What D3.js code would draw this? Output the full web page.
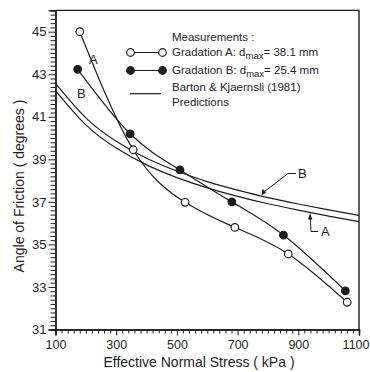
<!DOCTYPE html>
<html>
<head>
<meta charset="utf-8">
<script src="https://cdn.jsdelivr.net/npm/d3@7"></script>
<style>
  html, body { margin: 0; padding: 0; background: #fff; }
  svg { display: block; font-family: "Liberation Sans", Arial, sans-serif; }
</style>
</head>
<body>
<svg id="chart" width="370" height="372"></svg>
<script>
// Measured friction angles (degrees) against effective normal stress (kPa)
const stressA = [180, 356, 527, 691, 867, 1061];
const angleA  = [45.0, 39.45, 36.98, 35.8, 34.55, 32.28];
const stressB = [173, 346, 510, 681, 851, 1055];
const angleB  = [43.23, 40.2, 38.5, 37.0, 35.44, 32.82];

// Barton & Kjaernsli (1981) predicted curves
const predStress = [100, 200, 300, 400, 500, 600, 700, 800, 900, 1000, 1100];
const predA = [42.23, 40.62, 39.53, 38.74, 38.14, 37.66, 37.26, 36.91, 36.61, 36.33, 36.07];
const predB = [42.57, 40.95, 39.85, 39.05, 38.45, 37.95, 37.55, 37.20, 36.90, 36.62, 36.36];

// Axis ticks
const xMajor = [100, 300, 500, 700, 900, 1100];
const yMajor = [31, 33, 35, 37, 39, 41, 43, 45];

const ink = "#1e1e1e";
const svg = d3.select("#chart");

const x = d3.scaleLinear().domain([100, 1100]).range([55.5, 359]);
const y = d3.scaleLinear().domain([31, 46]).range([329.5, 10.4]);

// frame: top and right borders
svg.append("path")
  .attr("d", `M${x(100)},${y(46)}H${x(1100)}V${y(31)}`)
  .attr("fill", "none").attr("stroke", ink).attr("stroke-width", 1.4);

// minor ticks
const xMinor = d3.range(100, 1101, 20).filter(v => !xMajor.includes(v));
const yMinor = d3.range(31, 46.01, 0.2).map(v => +v.toFixed(1)).filter(v => !yMajor.includes(v));

const gx = svg.append("g").attr("transform", `translate(0,${y(31)})`);
gx.call(d3.axisBottom(x).tickValues(xMinor).tickSize(4).tickFormat(""));
gx.call(g => g.append("g").call(d3.axisBottom(x).tickValues(xMajor).tickSize(6).tickPadding(5)
  .tickFormat(d3.format("d"))));
gx.selectAll("path.domain").attr("stroke", ink).attr("stroke-width", 1.4);
gx.selectAll("line").attr("stroke", ink).attr("stroke-width", 1);
gx.selectAll("text").attr("fill", ink).attr("font-size", 12.5).attr("font-family", "Liberation Sans");
// the last label sits against the right edge of the page
gx.selectAll(".tick text").filter(d => d === 1100).attr("text-anchor", "end").attr("dx", 10);

const gy = svg.append("g").attr("transform", `translate(${x(100)},0)`);
gy.call(d3.axisLeft(y).tickValues(yMinor).tickSize(5).tickFormat(""));
gy.call(g => g.append("g").call(d3.axisLeft(y).tickValues(yMajor).tickSize(7).tickPadding(2)
  .tickFormat(d3.format("d"))));
gy.selectAll("path.domain").attr("stroke", ink).attr("stroke-width", 1.4);
gy.selectAll("line").attr("stroke", ink).attr("stroke-width", 1);
gy.selectAll("text").attr("fill", ink).attr("font-size", 13).attr("font-family", "Liberation Sans");

// axis titles
svg.append("text")
  .attr("x", 199).attr("y", 367)
  .attr("text-anchor", "middle").attr("font-size", 14).attr("fill", ink)
  .text("Effective Normal Stress ( kPa )");
svg.append("text")
  .attr("transform", `translate(24,186) rotate(-90)`)
  .attr("text-anchor", "middle").attr("font-size", 14).attr("fill", ink)
  .text("Angle of Friction  ( degrees )");

// prediction curves
const predLine = d3.line().x(d => x(d[0])).y(d => y(d[1])).curve(d3.curveNatural);
[predA, predB].forEach(vals => {
  svg.append("path")
    .datum(predStress.map((s, i) => [s, vals[i]]))
    .attr("d", predLine)
    .attr("fill", "none").attr("stroke", ink).attr("stroke-width", 1.2);
});

// measured series
const measLine = d3.line().x(d => x(d[0])).y(d => y(d[1])).curve(d3.curveNatural);
function series(stress, angle, filled) {
  const pts = stress.map((s, i) => [s, angle[i]]);
  svg.append("path").datum(pts).attr("d", measLine)
    .attr("fill", "none").attr("stroke", ink).attr("stroke-width", 1.2);
  svg.append("g").selectAll("circle").data(pts).join("circle")
    .attr("cx", d => x(d[0])).attr("cy", d => y(d[1])).attr("r", 3.8)
    .attr("fill", filled ? ink : "#fff").attr("stroke", ink).attr("stroke-width", 1.2);
}
series(stressA, angleA, false);
series(stressB, angleB, true);

// curve letters beside the measured curves
svg.append("text").attr("x", 89).attr("y", 64).attr("font-size", 13).attr("fill", ink).text("A");
svg.append("text").attr("x", 77).attr("y", 98).attr("font-size", 13).attr("fill", ink).text("B");

// value of a predicted curve at a given stress
const predAt = (vals, s) => d3.scaleLinear().domain(predStress).range(vals)(s);

// B leader: tip on the upper predicted curve
const bS = 779, bTip = [x(bS), y(predAt(predB, bS))];
svg.append("path").attr("d", d3.line()([[bTip[0] + 1, bTip[1] - 3], [288, 173.5], [296, 173.5]]))
  .attr("fill", "none").attr("stroke", ink).attr("stroke-width", 1);
svg.append("path").attr("d", `M${bTip[0]},${bTip[1] - 0.5}l0.8,-6.5l4,3.2z`).attr("fill", ink);
svg.append("text").attr("x", 298).attr("y", 178).attr("font-size", 13).attr("fill", ink).text("B");

// A leader: tip on the lower predicted curve
const aS = 939, aTip = [x(aS), y(predAt(predA, aS))];
svg.append("path").attr("d", d3.line()([[aTip[0], aTip[1] + 3], [311, 231.5], [318, 231.5]]))
  .attr("fill", "none").attr("stroke", ink).attr("stroke-width", 1);
svg.append("path").attr("d", `M${aTip[0]},${aTip[1] + 0.5}l-2.2,6.5l4.4,0z`).attr("fill", ink);
svg.append("text").attr("x", 321).attr("y", 236).attr("font-size", 13).attr("fill", ink).text("A");

// legend
const lg = svg.append("g").attr("fill", ink).attr("font-size", 11.5);
lg.append("text").attr("x", 172).attr("y", 41).text("Measurements :");
[[52.5, false, "A", "38.1 mm"], [70.5, true, "B", "25.4 mm"]].forEach(([ly, filled, g, val]) => {
  lg.append("line").attr("x1", 130.5).attr("x2", 162.5).attr("y1", ly).attr("y2", ly)
    .attr("stroke", ink).attr("stroke-width", 1.2);
  [130.5, 162.5].forEach(cx => lg.append("circle").attr("cx", cx).attr("cy", ly).attr("r", 3.8)
    .attr("fill", filled ? ink : "#fff").attr("stroke", ink).attr("stroke-width", 1.2));
  const t = lg.append("text").attr("x", 172).attr("y", ly + 3);
  t.append("tspan").text(`Gradation ${g}: d`);
  t.append("tspan").attr("dy", 3).attr("font-size", 9.5).text("max");
  t.append("tspan").attr("dy", -3).text(`= ${val}`);
});
lg.append("line").attr("x1", 130).attr("x2", 161).attr("y1", 93.7).attr("y2", 93.7)
  .attr("stroke", ink).attr("stroke-width", 1.2);
lg.append("text").attr("x", 172).attr("y", 91).text("Barton & Kjaernsli (1981)");
lg.append("text").attr("x", 172).attr("y", 106).text("Predictions");
</script>
</body>
</html>
